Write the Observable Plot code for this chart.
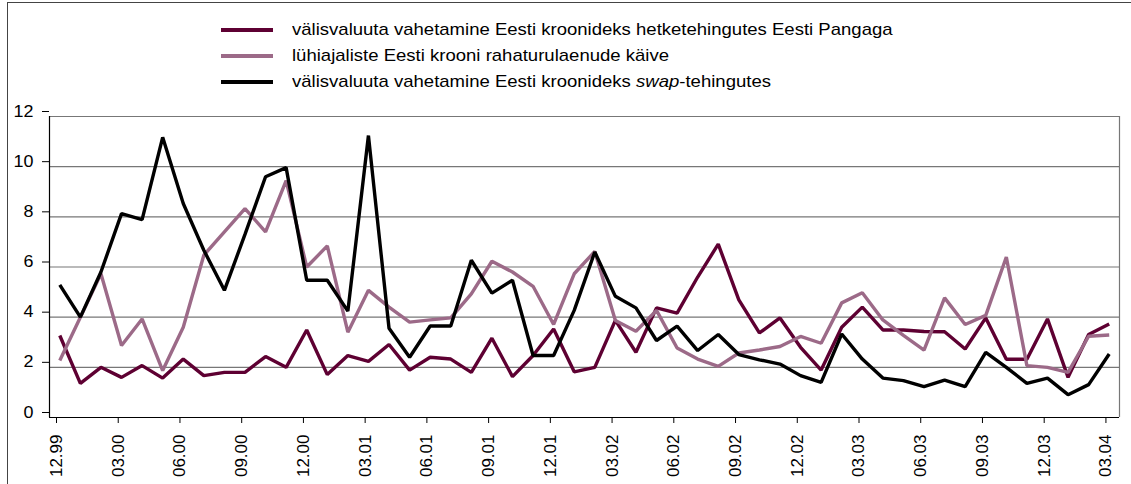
<!DOCTYPE html>
<html><head><meta charset="utf-8">
<script src="https://cdn.jsdelivr.net/npm/d3@7"></script>
<script src="https://cdn.jsdelivr.net/npm/@observablehq/plot@0.6"></script>
<style>
body{margin:0;background:#fff;font-family:"Liberation Sans",Arial,sans-serif;}
#wrap{position:relative;width:1131px;height:484px;overflow:hidden;background:#fff;}
#border{position:absolute;left:7px;top:2px;width:1200px;height:600px;border:1px solid #444;}
#legend{position:absolute;left:221px;top:17px;font-size:17px;color:#000;}
.row{display:flex;align-items:center;height:26px;white-space:nowrap;}
.sw{width:52px;height:4px;margin-right:19px;flex:none;}
.lt{display:inline-block;transform:scaleX(1.09);transform-origin:left center;}
#chart{position:absolute;left:0;top:0;}
</style></head><body>
<div id="wrap"><div id="border"></div><div id="legend"></div><div id="chart"></div></div>
<script>
const months = ["12.99",
  "01.00","02.00","03.00","04.00","05.00","06.00","07.00","08.00","09.00","10.00","11.00","12.00",
  "01.01","02.01","03.01","04.01","05.01","06.01","07.01","08.01","09.01","10.01","11.01","12.01",
  "01.02","02.02","03.02","04.02","05.02","06.02","07.02","08.02","09.02","10.02","11.02","12.02",
  "01.03","02.03","03.03","04.03","05.03","06.03","07.03","08.03","09.03","10.03","11.03","12.03",
  "01.04","02.04","03.04"];
const spot = [3.27,1.36,2.0,1.6,2.07,1.57,2.33,1.67,1.8,1.8,2.43,2.0,3.49,1.71,2.47,2.24,2.91,1.89,2.4,2.33,1.8,3.16,1.63,2.47,3.53,1.82,2.0,3.87,2.6,4.37,4.16,5.6,6.91,4.69,3.37,3.97,2.8,1.89,3.6,4.4,3.49,3.49,3.43,3.42,2.73,3.97,2.32,2.32,3.93,1.6,3.31,3.73];
const loans = [2.27,4.0,5.73,2.87,3.93,1.87,3.6,6.47,7.4,8.33,7.4,9.44,6.0,6.84,3.4,5.07,4.4,3.8,3.89,3.97,4.93,6.23,5.8,5.23,3.71,5.73,6.62,3.87,3.44,4.27,2.77,2.33,2.04,2.57,2.69,2.83,3.23,2.96,4.57,4.97,3.89,3.27,2.69,4.77,3.71,4.07,6.4,2.07,2.0,1.8,3.24,3.29];
const swap = [5.29,4.0,5.8,8.13,7.89,11.17,8.53,6.67,5.07,7.3,9.6,9.96,5.47,5.47,4.24,11.24,3.56,2.4,3.65,3.65,6.27,4.96,5.47,2.47,2.47,4.27,6.6,4.83,4.37,3.07,3.64,2.67,3.31,2.51,2.3,2.13,1.67,1.4,3.33,2.33,1.57,1.47,1.23,1.49,1.23,2.6,2.0,1.36,1.57,0.91,1.31,2.53];
const seriesNames = [
  "välisvaluuta vahetamine Eesti kroonideks hetketehingutes Eesti Pangaga",
  "lühiajaliste Eesti krooni rahaturulaenude käive",
  "välisvaluuta vahetamine Eesti kroonideks swap-tehingutes"];
const seriesColors = ["#5e0032", "#9c6a88", "#000000"];
const yTicks = [0, 2, 4, 6, 8, 10, 12];
const tickEvery = 3;

const seriesValues = [spot, loans, swap];
const data = [];
seriesValues.forEach((arr, s) => arr.forEach((v, i) => data.push({series: seriesNames[s], month: months[i], i, value: v})));
const xTicks = months.map((m, i) => i).filter(i => i % tickEvery === 0).map(i => i - 0.5);

const plot = Plot.plot({
  width: 1131, height: 484,
  marginLeft: 49, marginRight: 12, marginTop: 116, marginBottom: 67,
  x: {type: "linear", domain: [-0.5, months.length - 0.5]},
  y: {domain: [0, 12]},
  color: {domain: seriesNames, range: seriesColors},
  style: {fontFamily: "Liberation Sans, Arial, sans-serif", fontSize: "16px", background: "transparent", color: "#000"},
  marks: [
    Plot.ruleY(yTicks.filter(t => t > 0), {stroke: "#777", strokeWidth: 1.2}),
    Plot.ruleX([months.length - 0.5], {stroke: "#777", strokeWidth: 1.2}),
    Plot.axisY(yTicks, {tickSize: 7, tickPadding: 9, label: null, dy: -5, stroke: "#000", fontSize: 16}),
    Plot.axisX(xTicks, {tickFormat: t => months[t + 0.5], tickRotate: -90, tickSize: 6, tickPadding: 11, label: null, stroke: "#000", fontSize: 17, dx: 7}),
    Plot.ruleY([0], {stroke: "#000", strokeWidth: 1.2}),
    Plot.ruleX([-0.5], {stroke: "#000", strokeWidth: 1.2}),
    Plot.line(data, {x: "i", y: "value", z: "series", stroke: "series", strokeWidth: 3.4, strokeLinejoin: "miter", strokeLinecap: "butt"})
  ]
});
// widen y tick labels slightly to match the reference's lettering
d3.select(plot).selectAll("g[aria-label='y-axis tick label'] text").each(function() {
  const t = this.getAttribute("transform") || "";
  this.setAttribute("transform", t + " scale(1.12,1)");
});
document.getElementById("chart").appendChild(plot);

const legend = document.getElementById("legend");
seriesNames.forEach((name, s) => {
  const row = document.createElement("div");
  row.className = "row";
  const sw = document.createElement("span");
  sw.className = "sw";
  sw.style.background = seriesColors[s];
  row.appendChild(sw);
  const label = document.createElement("span");
  label.className = "lt";
  if (name.includes("swap-")) {
    const [a, b] = name.split("swap");
    label.append(a);
    const em = document.createElement("i");
    em.textContent = "swap";
    label.append(em, b);
  } else label.textContent = name;
  row.appendChild(label);
  legend.appendChild(row);
});
</script>
</body></html>
